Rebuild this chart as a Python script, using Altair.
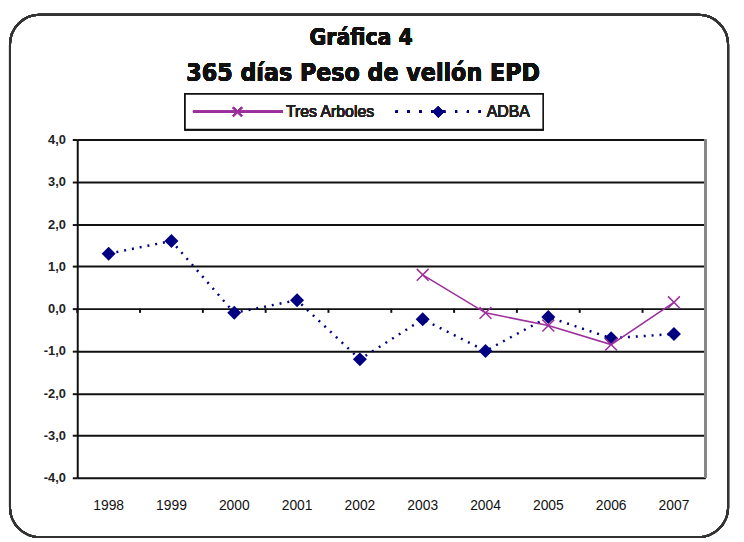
import altair as alt
import pandas as pd

years = ["1998", "1999", "2000", "2001", "2002", "2003", "2004", "2005", "2006", "2007"]
adba = [1.3, 1.6, -0.1, 0.2, -1.2, -0.25, -1.0, -0.2, -0.7, -0.6]
tres_years = ["2003", "2004", "2005", "2006", "2007"]
tres = [0.8, -0.1, -0.4, -0.85, 0.15]
y_ticks = [4, 3, 2, 1, 0, -1, -2, -3, -4]

title1 = "Gráfica 4"
title2 = "365 días Peso de vellón EPD"
series_names = ["Tres Arboles", "ADBA"]

NAVY = "#000080"
PURPLE = "#9C2F9C"
FONT = "Liberation Sans"
TFONT = "DejaVu Sans Condensed"

df_adba = pd.DataFrame({"year": years, "value": adba})
df_tres = pd.DataFrame({"year": tres_years, "value": tres})
df_years = pd.DataFrame({"year": years, "value": [0.0] * len(years), "low": [-0.1] * len(years)})

W, H = 635, 342

xscale = alt.Scale(domain=years, paddingInner=0, paddingOuter=0)
yscale = alt.Scale(domain=[-4, 4], nice=False)

x_axis = alt.Axis(domain=False, ticks=False, labelAngle=0, labelPadding=21,
                  labelFont=FONT, labelFontSize=14, labelColor="#111", grid=False)
y_axis = alt.Axis(values=y_ticks, grid=True, gridColor="#111", gridWidth=2,
                  domain=True, domainColor="#111", domainWidth=2,
                  ticks=True, tickColor="#111", tickSize=5, tickWidth=2,
                  labelPadding=7, labelFont=FONT, labelFontSize=13,
                  labelFontWeight="bold", labelColor="#222",
                  labelExpr="replace(replace(format(datum.value, '.1f'), '.', ','), '\u2212', '-')")

x_enc = alt.X("year:N", scale=xscale, sort=years, title=None, axis=x_axis)
y_enc = alt.Y("value:Q", scale=yscale, title=None, axis=y_axis)

adba_line = alt.Chart(df_adba).mark_line(
    color=NAVY, strokeWidth=2.5, strokeDash=[2, 6]
).encode(x=x_enc, y=y_enc)

adba_pts = alt.Chart(df_adba).mark_point(
    shape="diamond", filled=True, color=NAVY, size=200, opacity=1
).encode(x=x_enc, y=y_enc)

tres_line = alt.Chart(df_tres).mark_line(
    color=PURPLE, strokeWidth=1.6
).encode(x=x_enc, y=y_enc)

tres_pts = alt.Chart(df_tres).mark_point(
    shape="M-1,-1L1,1M-1,1L1,-1", filled=False, color=PURPLE, size=144,
    strokeWidth=1.5, opacity=1
).encode(x=x_enc, y=y_enc)

# small tick marks below the zero line at category boundaries
zero_ticks = alt.Chart(df_years).mark_rule(color="#111", strokeWidth=2).encode(
    x=alt.X("year:N", scale=xscale, sort=years, title=None, axis=x_axis, bandPosition=0),
    y=y_enc,
    y2=alt.Y2("low:Q"),
)

right_border = alt.Chart(df_years).mark_rule(color="#888", strokeWidth=2).encode(
    x=alt.value(W), y=alt.value(0), y2=alt.value(H)
)

frame = alt.Chart(df_years).mark_rect(
    fill=None, stroke="#333", strokeWidth=2, cornerRadius=30
).encode(x=alt.value(-68), x2=alt.value(658), y=alt.value(-126), y2=alt.value(402))

t1 = alt.Chart(df_years).mark_text(
    text=title1, font=TFONT, fontSize=23, fontWeight="bold", color="#111",
    align="center", baseline="middle"
).encode(x=alt.value(287), y=alt.value(-103))

t2 = alt.Chart(df_years).mark_text(
    text=title2, font=TFONT, fontSize=25, fontWeight="bold", color="#111",
    align="center", baseline="middle"
).encode(x=alt.value(289), y=alt.value(-67))

leg_box = alt.Chart(df_years).mark_rect(
    fill="white", stroke="#111", strokeWidth=1.5
).encode(x=alt.value(109), x2=alt.value(471), y=alt.value(-46), y2=alt.value(-10))

leg_l1 = alt.Chart(df_years).mark_rule(color=PURPLE, strokeWidth=2).encode(
    x=alt.value(117), x2=alt.value(208), y=alt.value(-28)
)
leg_p1 = alt.Chart(df_years).mark_point(
    shape="M-1,-1L1,1M-1,1L1,-1", filled=False, color=PURPLE, size=80,
    strokeWidth=1.5, opacity=1
).encode(x=alt.value(162), y=alt.value(-28))
leg_t1 = alt.Chart(df_years).mark_text(
    text=series_names[0], font=FONT, fontSize=16, fontWeight="normal", color="#222",
    align="left", baseline="middle"
).encode(x=alt.value(211), y=alt.value(-28))

leg_l2 = alt.Chart(df_years).mark_rule(color=NAVY, strokeWidth=2.5, strokeDash=[2, 10]).encode(
    x=alt.value(322), x2=alt.value(410), y=alt.value(-28)
)
leg_p2 = alt.Chart(df_years).mark_point(
    shape="diamond", filled=True, color=NAVY, size=130, opacity=1
).encode(x=alt.value(365), y=alt.value(-28))
leg_t2 = alt.Chart(df_years).mark_text(
    text=series_names[1], font=FONT, fontSize=16, fontWeight="normal", color="#222",
    align="left", baseline="middle"
).encode(x=alt.value(414), y=alt.value(-28))

chart = alt.layer(
    frame, zero_ticks, adba_line, tres_line, adba_pts, tres_pts, right_border,
    t1, t2, leg_box, leg_l1, leg_p1, leg_t1, leg_l2, leg_p2, leg_t2,
).properties(
    width=W, height=H,
    autosize=alt.AutoSizeParams(type="none"),
    padding={"left": 70, "top": 130, "right": 31, "bottom": 62},
).configure_view(stroke=None).configure(background="white")

chart.save("out.html", embed_options={"renderer": "svg", "actions": False})
